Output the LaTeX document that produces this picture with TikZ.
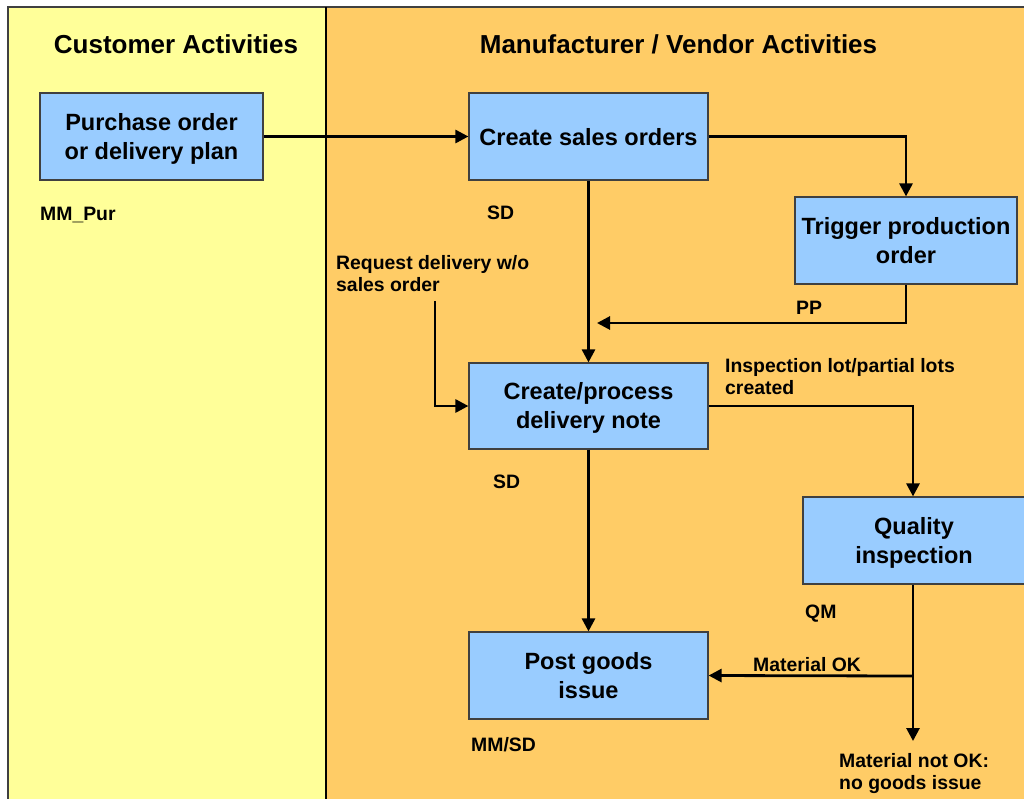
\documentclass[tikz,border=0pt]{standalone}
\usepackage{fontspec}
\setmainfont{Liberation Sans}
\usetikzlibrary{arrows.meta}
\definecolor{custlane}{HTML}{FFFF99}
\definecolor{vendlane}{HTML}{FFCC66}
\definecolor{actfill}{HTML}{99CCFF}
\definecolor{frame}{HTML}{404040}
\tikzset{
  activity/.style={draw=frame, line width=1.2pt, fill=actfill, align=center,
    inner sep=0pt, font=\bfseries\fontsize{23.5}{29}\selectfont},
  twolines/.style={text height=48pt, text depth=3pt},
  oneline/.style={text height=20pt, text depth=3pt},
  lanehead/.style={font=\bfseries\fontsize{26}{30}\selectfont, anchor=base},
  tag/.style={font=\bfseries\fontsize{19.4}{22}\selectfont, anchor=base west,
    align=left, inner sep=0pt},
  flow/.style={line width=2.8pt, draw=black,
    -{Triangle[length=13pt,width=13pt]}},
}
\begin{document}
\begin{tikzpicture}[x=1pt,y=-1pt]
\useasboundingbox (0,0) rectangle (1024,798);
\clip (0,0) rectangle (1024,798);
\fill[white] (0,0) rectangle (1024,798);

% swim lanes
\fill[custlane] (8,7) rectangle (326,805);
\fill[vendlane] (326,7) rectangle (1030,805);
\draw[frame, line width=1.5pt] (8,805) -- (8,7) -- (1030,7);
\draw[black, line width=1.3pt] (326,7) -- (326,805);

\node[lanehead] (hcust) at (176,53) {Customer Activities};
\node[lanehead] (hvend) at (678.5,53) {Manufacturer / Vendor Activities};

% activities
\node[activity, twolines, minimum width=223pt, minimum height=87pt] (po) at (151.5,136.5)
  {Purchase order\\or delivery plan};
\node[activity, oneline, minimum width=239pt, minimum height=87pt] (cso) at (588.5,136.5)
  {Create sales orders};
\node[activity, twolines, minimum width=222pt, minimum height=87pt] (tpo) at (906,240.5)
  {Trigger production\\order};
\node[activity, twolines, minimum width=239pt, minimum height=86pt] (dn) at (588.5,406)
  {Create/process\\delivery note};
\node[activity, twolines, minimum width=222pt, minimum height=87pt] (qi) at (914,540.5)
  {Quality\\inspection};
\node[activity, twolines, minimum width=239pt, minimum height=87pt] (pgi) at (588.5,675.5)
  {Post goods\\issue};

% module tags
\node[tag] (tmmpur) at (40,220) {MM\_Pur};
\node[tag] (tsd1) at (487,219) {SD};
\node[tag] (tpp) at (796,314) {PP};
\node[tag] (tsd2) at (493,488) {SD};
\node[tag] (tqm) at (805,618) {QM};
\node[tag] (tmmsd) at (471,751) {MM/SD};

% flow labels (anchored on the baseline of their last line)
\node[tag] (lreq) at (336,291) {Request delivery w/o\\sales order};
\node[tag] (linsp) at (725,394) {Inspection lot/partial lots\\created};
\node[tag] (lok) at (753,671) {Material OK};
\node[tag] (lnok) at (839,789) {Material not OK:\\no goods issue};

% helper points
\coordinate (reqstart) at (435,301);
\coordinate (ppend) at (597,323);
\coordinate (okfork) at (913,676);
\coordinate (nokend) at (913,741);

% flows
\draw[flow] (po.east) -- (cso.west);
\draw[flow] (cso.east) -| (tpo.north);
\draw[flow] (cso.south) -- (dn.north);
\draw[flow] (tpo.south) |- (ppend);
\draw[flow] (reqstart) |- (dn.west);
\draw[flow] (dn.east) -| (qi.north -| okfork);
\draw[flow] (dn.south) -- (pgi.north);
\draw[flow] (qi.south -| okfork) -- (nokend);
\draw[flow] (okfork) -- (pgi.east);
\end{tikzpicture}
\end{document}
